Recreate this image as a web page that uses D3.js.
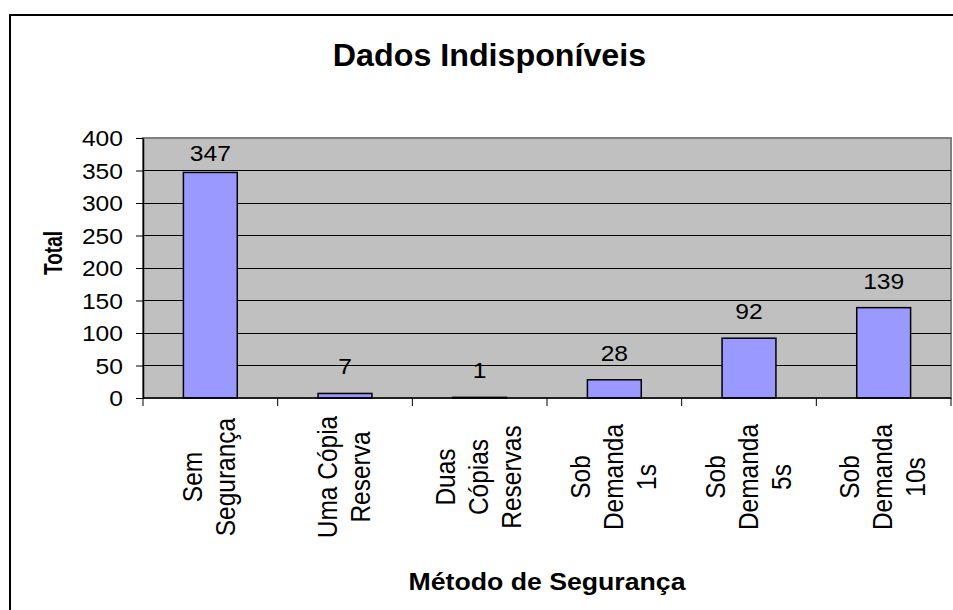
<!DOCTYPE html>
<html>
<head>
  <meta charset='utf-8'>
  <title>Dados Indisponíveis</title>
  <style>
    html, body { margin: 0; background: #fff; overflow: hidden; }
    svg { display: block; }
    text { font-family: Arial, 'Liberation Sans', sans-serif; fill: #000; }
  </style>
</head>
<body>
<div id="chart"></div>
<script src="https://cdnjs.cloudflare.com/ajax/libs/d3/7.8.5/d3.min.js"></script>
<script>

// data
var categories = [
  ['Sem', 'Segurança'],
  ['Uma Cópia', 'Reserva'],
  ['Duas', 'Cópias', 'Reservas'],
  ['Sob', 'Demanda', '1s'],
  ['Sob', 'Demanda', '5s'],
  ['Sob', 'Demanda', '10s']
];
var totals = [347, 7, 1, 28, 92, 139];
var yTicks = [0, 50, 100, 150, 200, 250, 300, 350, 400];

var width = 953, height = 610;
var plot = {left: 143, right: 951, top: 138, bottom: 398};

var svg = d3.select('#chart')
  .append('svg')
  .attr('width', width)
  .attr('height', height);

// chart frame: only its top and left edges are inside the picture
svg.append('path')
  .attr('d', 'M10,' + height + 'V15H' + width)
  .attr('fill', 'none')
  .attr('stroke', '#000')
  .attr('stroke-width', 2);

var x = d3.scaleBand()
  .domain(d3.range(categories.length))
  .range([plot.left, plot.right])
  .paddingInner(0.6)
  .paddingOuter(0.3);

var y = d3.scaleLinear()
  .domain([0, 400])
  .range([plot.bottom, plot.top]);

// plot area
svg.append('rect')
  .attr('x', plot.left).attr('y', plot.top)
  .attr('width', plot.right - plot.left)
  .attr('height', plot.bottom - plot.top)
  .attr('fill', '#c0c0c0')
  .attr('stroke', '#808080')
  .attr('stroke-width', 2);

// gridlines
svg.append('g')
  .selectAll('line')
  .data(yTicks.filter(function(d) { return d > 0 && d < 400; }))
  .enter()
    .append('line')
    .attr('x1', plot.left).attr('x2', plot.right)
    .attr('y1', function(d) { return y(d); })
    .attr('y2', function(d) { return y(d); })
    .attr('stroke', '#000')
    .attr('stroke-width', 1)
    .attr('shape-rendering', 'crispEdges');

// bars
svg.append('g')
  .selectAll('rect')
  .data(totals)
  .enter()
    .append('rect')
    .attr('x', function(d, i) { return x(i); })
    .attr('y', function(d) { return y(d); })
    .attr('width', x.bandwidth())
    .attr('height', function(d) { return y(0) - y(d); })
    .attr('fill', '#9999ff')
    .attr('stroke', '#000')
    .attr('stroke-width', 1.5);

// y axis
var yAxis = svg.append('g')
  .attr('transform', 'translate(' + plot.left + ',0)')
  .call(d3.axisLeft(y).tickValues(yTicks).tickSize(7).tickSizeOuter(0));
yAxis.select('.domain').attr('stroke', '#000').attr('stroke-width', 1.5);
yAxis.selectAll('.tick line').attr('stroke', '#000');
yAxis.selectAll('.tick text')
  .attr('font-size', 22)
  .attr('font-family', 'Arial, Liberation Sans, sans-serif')
  .attr('dy', '0.36em')
  .attr('transform', 'scale(1.12,1)')
  .attr('x', -20 / 1.12);

// x axis: ticks sit on category boundaries
var step = x.step();
var bounds = d3.range(categories.length + 1).map(function(i) { return plot.left + i * step; });
var xAxis = svg.append('g');
xAxis.append('line')
  .attr('x1', plot.left).attr('x2', plot.right)
  .attr('y1', plot.bottom).attr('y2', plot.bottom)
  .attr('stroke', '#000').attr('stroke-width', 1.5);
xAxis.selectAll('line.tick')
  .data(bounds)
  .enter()
    .append('line')
    .attr('class', 'tick')
    .attr('x1', function(d) { return d; }).attr('x2', function(d) { return d; })
    .attr('y1', plot.bottom).attr('y2', plot.bottom + 8)
    .attr('stroke', '#000');

// category labels, rotated, each line in its own column
var catG = xAxis.selectAll('g.cat')
  .data(categories)
  .enter()
    .append('g')
    .attr('class', 'cat');
catG.selectAll('text')
  .data(function(d, i) {
    return d.map(function(s, j) {
      var cx = x(i) + x.bandwidth() / 2;
      return {s: s, bx: cx + (j - (d.length - 1) / 2) * 33 + 8.5};
    });
  })
  .enter()
    .append('text')
    .attr('transform', function(d) { return 'translate(' + d.bx + ',477) scale(1.13,1) rotate(-90)'; })
    .attr('text-anchor', 'middle')
    .attr('font-size', 24.5)
    .text(function(d) { return d.s; });

// value labels
svg.append('g')
  .selectAll('text')
  .data(totals)
  .enter()
    .append('text')
    .attr('transform', function(d, i) {
      var by = Math.max(y(d) - 19, plot.top + 23);
      return 'translate(' + (x(i) + x.bandwidth() / 2) + ',' + by + ') scale(1.12,1)';
    })
    .attr('text-anchor', 'middle')
    .attr('font-size', 22)
    .text(function(d) { return d; });

// titles
svg.append('text')
  .attr('transform', 'translate(489.5,66) scale(1.04,1)')
  .attr('text-anchor', 'middle')
  .attr('font-size', 31)
  .attr('font-weight', 'bold')
  .text('Dados Indisponíveis');

svg.append('text')
  .attr('transform', 'translate(547,590) scale(1.16,1)')
  .attr('text-anchor', 'middle')
  .attr('font-size', 23)
  .attr('font-weight', 'bold')
  .text('Método de Segurança');

svg.append('text')
  .attr('transform', 'translate(62,253) scale(1.33,1) rotate(-90)')
  .attr('text-anchor', 'middle')
  .attr('font-size', 19)
  .attr('font-weight', 'bold')
  .text('Total');

</script>
</body>
</html>
